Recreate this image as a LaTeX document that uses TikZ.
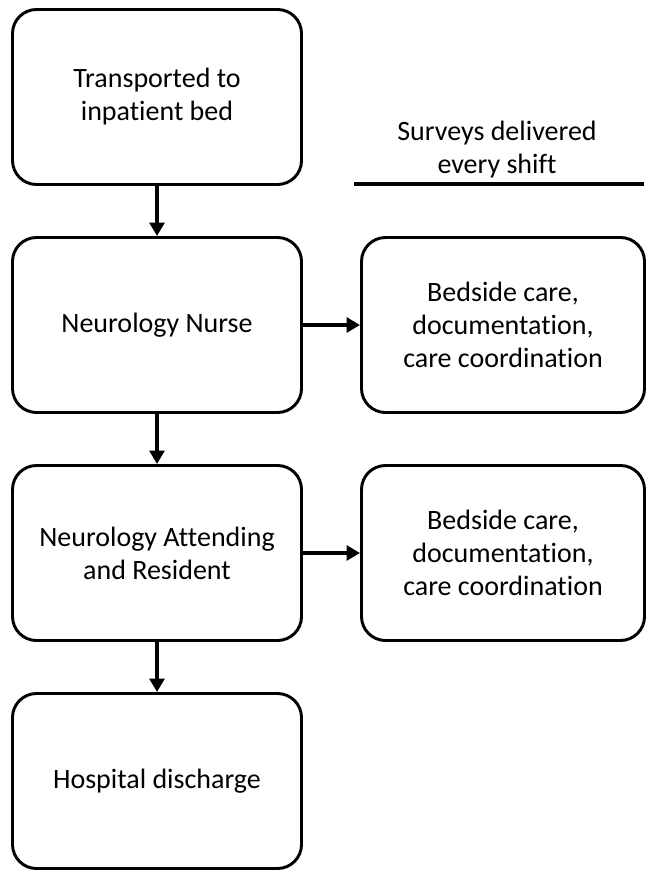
\documentclass[tikz,border=0pt]{standalone}
\usepackage{fontspec}
\setmainfont[Ligatures=NoCommon]{Carlito}
\usetikzlibrary{arrows.meta}
\begin{document}
\begin{tikzpicture}[x=0.75pt,y=-0.75pt,
  txt/.style={font=\fontsize{21}{24.8}\selectfont, align=center},
  box/.style={txt, draw=black, line width=2.2pt, rounded corners=18pt, fill=white, inner sep=0pt},
  lbox/.style={box, minimum width=289*0.75pt, minimum height=175*0.75pt},
  rbox/.style={box, minimum width=283*0.75pt, minimum height=175*0.75pt},
  conn/.style={line width=3pt, -{Triangle[length=10pt,width=11pt]}}]
\useasboundingbox (0,0) rectangle (646,870);
\node[lbox] (t) at (157,97) {Transported to\\inpatient bed};
\node[lbox] (n) at (157,325) {Neurology Nurse};
\node[lbox] (a) at (157,553) {Neurology Attending\\and Resident};
\node[lbox] (h) at (157,781) {Hospital discharge};
\node[rbox] (r1) at (503,325) {Bedside care,\\documentation,\\care coordination};
\node[rbox] (r2) at (503,553) {Bedside care,\\documentation,\\care coordination};
\node[txt] (s) at (497,150) {Surveys delivered\\every shift};
\coordinate (l1) at (354,184);
\coordinate (l2) at (644,184);
\draw[line width=2.4pt] (l1) -- (l2);
\draw[conn] (t) -- (n);
\draw[conn] (n) -- (a);
\draw[conn] (a) -- (h);
\draw[conn] (n) -- (r1);
\draw[conn] (a) -- (r2);
\end{tikzpicture}
\end{document}
